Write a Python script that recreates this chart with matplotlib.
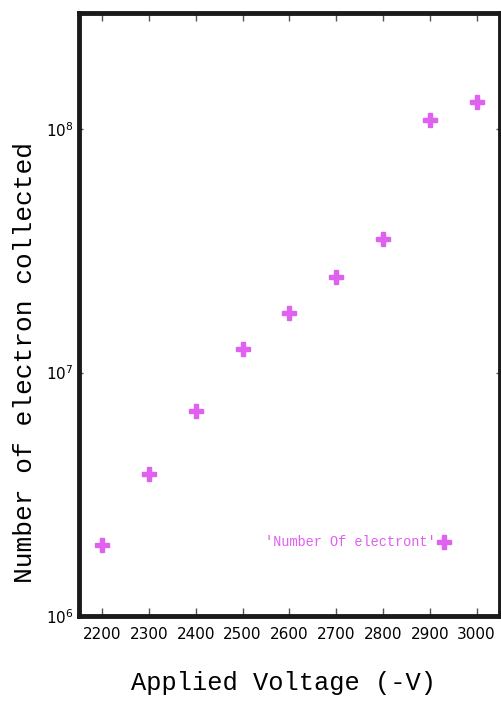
import matplotlib
matplotlib.use('Agg')
import matplotlib.pyplot as plt
from matplotlib.ticker import LogLocator, NullLocator, FixedLocator

# applied voltage (-V) vs collected electrons
voltage = [2200, 2300, 2400, 2500, 2600, 2700, 2800, 2900, 3000]
electrons = [1.95e6, 3.82e6, 6.98e6, 1.25e7, 1.76e7, 2.47e7, 3.54e7, 1.09e8, 1.29e8]
series_name = "'Number Of electront'"

color = '#e060f0'

fig = plt.figure(figsize=(5.02, 7.02), dpi=100)
ax = fig.add_axes([0.157, 0.1225, 0.839, 0.859])

ax.plot(voltage, electrons, linestyle='none', marker='P', markersize=10,
        color=color, markeredgecolor=color, label=series_name)

ax.set_yscale('log')
ax.set_xlim(2150, 3050)
ax.set_ylim(1e6, 3e8)

ax.xaxis.set_major_locator(FixedLocator(voltage))
ax.yaxis.set_major_locator(LogLocator(base=10, numticks=5))
ax.yaxis.set_minor_locator(NullLocator())

for sp in ax.spines.values():
    sp.set_linewidth(3.5)
    sp.set_color('#1a1a1a')

ax.tick_params(direction='in', top=True, right=True, length=6, width=1,
               color='#555555', labelsize=11, pad=8)
ax.tick_params(axis='y', length=3, pad=4)

ax.set_xlabel('Applied Voltage (-V)', family='Liberation Mono', fontsize=18.3)
ax.set_ylabel('Number of electron collected', family='Liberation Mono',
              fontsize=18.9)
ax.xaxis.set_label_coords(0.487, -0.091)
ax.yaxis.set_label_coords(-0.10, 0.42)

ax.legend(loc='lower right', bbox_to_anchor=(0.905, 0.09), frameon=False,
          markerfirst=False, handlelength=0.6, handletextpad=0.3,
          labelcolor=color, prop={'family': 'Liberation Mono', 'size': 9.8})

fig.savefig('out.png', dpi=100)
